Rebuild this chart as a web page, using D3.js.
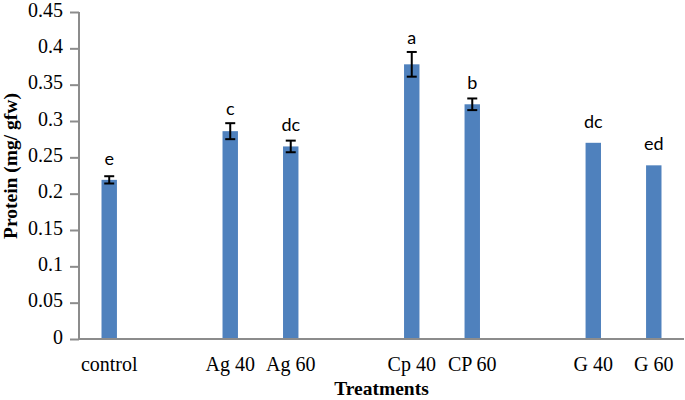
<!DOCTYPE html>
<html>
<head>
<meta charset="utf-8">
<script src="https://cdn.jsdelivr.net/npm/d3@7"></script>
<style>
  html, body { margin: 0; padding: 0; background: #ffffff; }
  svg { display: block; }
</style>
</head>
<body>
<svg id="chart" width="685" height="400"></svg>
<script>
// ---- data ----
const categories = ["control", "", "Ag 40", "Ag 60", "", "Cp 40", "CP 60", "", "G 40", "G 60"];
const values     = [0.219, null, 0.286, 0.265, null, 0.378, 0.323, null, 0.270, 0.239];
const errors     = [0.005, null, 0.011, 0.008, null, 0.017, 0.008, null, 0, 0];
const letters    = ["e", "", "c", "dc", "", "a", "b", "", "dc", "ed"];
const yTicks     = [0, 0.05, 0.1, 0.15, 0.2, 0.25, 0.3, 0.35, 0.4, 0.45];
const yTitle = "Protein (mg/ gfw)";
const xTitle = "Treatments";

// ---- layout ----
const svg = d3.select("#chart");
const mLeft = 79, mRight = 684, mTop = 12, mBottom = 339;
const barColor = "#4f81bd", axisColor = "#8c8c8c";
const serif = "'Liberation Serif', 'Times New Roman', serif";

const x = d3.scaleBand().domain(d3.range(categories.length)).range([mLeft, mRight])
  .paddingInner(0.745).paddingOuter(0.372);
const y = d3.scaleLinear().domain([0, 0.45]).range([mBottom, mTop]);

// bars
const rows = categories.map((c, i) => ({ i, c, v: values[i], e: errors[i], l: letters[i] }))
  .filter(d => d.v != null);

svg.append("g").selectAll("rect").data(rows).join("rect")
  .attr("x", d => x(d.i))
  .attr("width", x.bandwidth())
  .attr("y", d => y(d.v))
  .attr("height", d => y(0) - y(d.v))
  .attr("fill", barColor);

// error bars
const eb = svg.append("g").attr("stroke", "#000").attr("stroke-width", 2);
rows.filter(d => d.e > 0).forEach(d => {
  const cx = x(d.i) + x.bandwidth() / 2;
  const cap = 5;
  eb.append("line").attr("x1", cx).attr("x2", cx).attr("y1", y(d.v + d.e)).attr("y2", y(d.v - d.e));
  eb.append("line").attr("x1", cx - cap).attr("x2", cx + cap).attr("y1", y(d.v + d.e)).attr("y2", y(d.v + d.e));
  eb.append("line").attr("x1", cx - cap).attr("x2", cx + cap).attr("y1", y(d.v - d.e)).attr("y2", y(d.v - d.e));
});

// letters
svg.append("g").selectAll("text").data(rows).join("text")
  .attr("x", d => x(d.i) + x.bandwidth() / 2)
  .attr("y", d => Math.min(y(d.v) - 15, y(d.v + d.e) - 8))
  .attr("text-anchor", "middle")
  .attr("font-family", "Lato, 'Open Sans', sans-serif")
  .attr("font-size", 18)
  .attr("fill", "#000")
  .text(d => d.l);

// y axis
const yAxis = svg.append("g").attr("transform", `translate(${mLeft},0)`)
  .call(d3.axisLeft(y).tickValues(yTicks).tickSize(9).tickPadding(7)
    .tickFormat(d => String(+d.toFixed(2))));
yAxis.select(".domain").attr("stroke", axisColor).attr("stroke-width", 2)
  .attr("d", `M0,${mTop}V${mBottom}`);
yAxis.selectAll(".tick line").attr("stroke", axisColor).attr("stroke-width", 2);
yAxis.selectAll(".tick text")
  .attr("font-family", serif)
  .attr("font-size", 20).attr("fill", "#000").attr("dy", "0.2em");

// x axis
const xAxis = svg.append("g").attr("transform", `translate(0,${mBottom})`)
  .call(d3.axisBottom(x).tickSize(0).tickFormat(i => categories[i]));
xAxis.select(".domain").attr("stroke", axisColor).attr("stroke-width", 2)
  .attr("d", `M${mLeft},0H${mRight}`);
xAxis.selectAll(".tick text")
  .attr("font-family", serif)
  .attr("font-size", 20).attr("fill", "#000")
  .attr("y", 32).attr("dy", 0);

// titles
svg.append("text")
  .attr("x", (mLeft + mRight) / 2).attr("y", 395)
  .attr("text-anchor", "middle")
  .attr("font-family", serif)
  .attr("font-weight", "bold").attr("font-size", 19.5)
  .text(xTitle);

svg.append("text")
  .attr("transform", "translate(17,166) rotate(-90)")
  .attr("text-anchor", "middle")
  .attr("font-family", serif)
  .attr("font-weight", "bold").attr("font-size", 19.5)
  .text(yTitle);
</script>
</body>
</html>
